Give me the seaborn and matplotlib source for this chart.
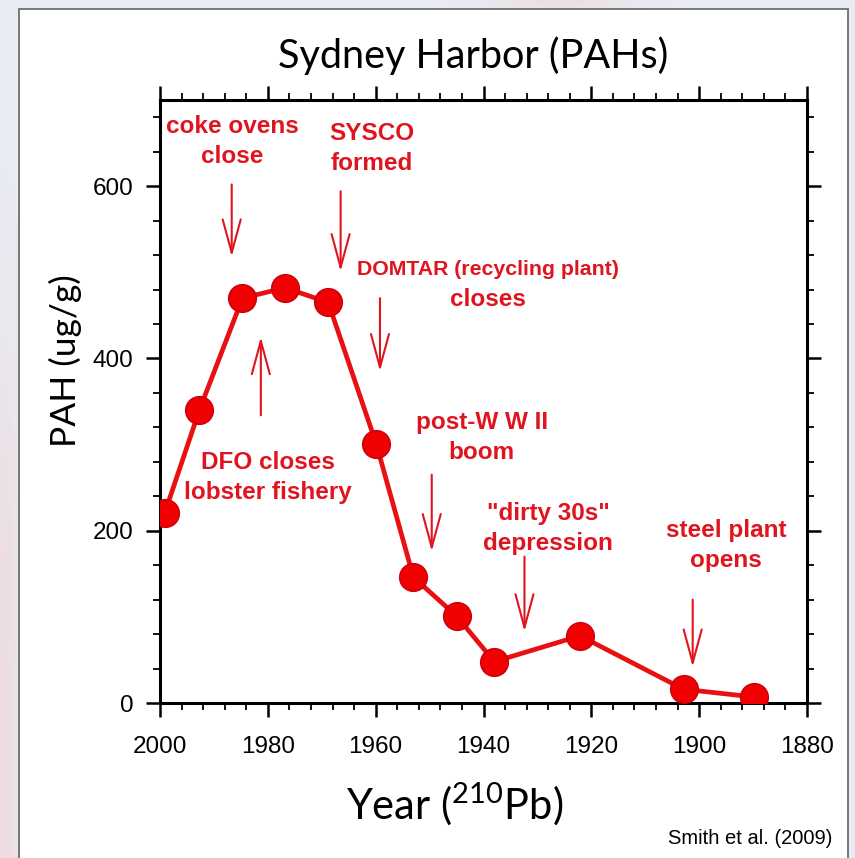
import numpy as np
import matplotlib
matplotlib.use("Agg")
import matplotlib.pyplot as plt
from matplotlib.patches import Rectangle
from matplotlib.ticker import MultipleLocator
import seaborn as sns

# PAH concentrations down the dated sediment core
years = [1999.1, 1992.7, 1984.7, 1976.8, 1968.8, 1959.9, 1953.0, 1945.0, 1938.0, 1922.1, 1902.9, 1889.9]
pah = [221, 340, 470, 482, 465, 301, 146, 101, 48, 78, 16, 7]

# Historical events: two text lines each, with per-line font size
event_top = ["coke ovens", "SYSCO", "DOMTAR (recycling plant)", "DFO closes",
             "post-W W II", "\"dirty 30s\"", "steel plant"]
event_bottom = ["close", "formed", "closes", "lobster fishery", "boom",
                "depression", "opens"]
top_size = [17.5, 17.5, 15.3, 17.5, 17.5, 17.5, 17.5]
label_year = [1986.6, 1960.8, 1939.1, 1979.9, 1940.3, 1928.0, 1895.0]
label_pah = [652, 644, 486, 262, 308, 202, 183]
arrow_year = [1986.7, 1966.5, 1959.2, 1981.3, 1949.6, 1932.4, 1901.2]
arrow_from = [602, 594, 470, 334, 265, 170, 120]
arrow_to = [518, 501, 385, 425, 176, 83, 42]

x_ticks = [2000, 1980, 1960, 1940, 1920, 1900, 1880]
y_ticks = [0, 200, 400, 600]

sns.set_theme(style="ticks")
plt.rcParams["font.family"] = ["Liberation Sans", "DejaVu Sans"]
plt.rcParams["mathtext.fontset"] = "custom"
plt.rcParams["mathtext.rm"] = "Lato"
plt.rcParams["mathtext.default"] = "regular"

RED_TXT = "#e0141e"
RED_LINE = "#e81010"
RED_FILL = "#f00000"
RED_EDGE = "#c8000f"

W, H = 855, 858
fig = plt.figure(figsize=(W / 100, H / 100), dpi=100)

# slide-style backdrop with a white panel
bg = fig.add_axes([0, 0, 1, 1], zorder=-5)
bg.set_xlim(0, W)
bg.set_ylim(H, 0)
bg.axis("off")
yy, xx = np.mgrid[0:H, 0:W]
base = np.array([233, 236, 243]) / 255
tint = np.array([238, 216, 218]) / 255
wgt = 0.85 * np.exp(-(xx / 22.0) ** 2) / (1 + np.exp(-(yy - 420) / 90.0))
wgt += 0.6 * np.exp(-((xx - 560) / 70.0) ** 2) * np.exp(-(yy / 12.0) ** 2)
wgt = np.clip(wgt, 0, 1)[..., None]
img = base * (1 - wgt) + tint * wgt
bg.imshow(img, extent=(0, W, H, 0), aspect="auto", interpolation="bilinear")
bg.add_patch(Rectangle((19, 9), 829, 870, facecolor="white", edgecolor="#6e6e6e", lw=1.3))

ax = fig.add_axes([160 / W, 155 / H, 647 / W, 603 / H])
ax.set_facecolor("white")

sns.lineplot(x=years, y=pah, ax=ax, color=RED_LINE, linewidth=3.4, marker="o",
             markersize=20, markerfacecolor=RED_FILL, markeredgecolor=RED_EDGE,
             markeredgewidth=1.0, zorder=3)

ax.set_xlim(2000, 1880)
ax.set_ylim(0, 700)
ax.set_xticks(x_ticks)
ax.set_yticks(y_ticks)
ax.xaxis.set_minor_locator(MultipleLocator(4))
ax.yaxis.set_minor_locator(MultipleLocator(40))
ax.tick_params(which="both", direction="out", top=True, right=True,
               labeltop=False, labelright=False, color="black")
ax.tick_params(which="major", length=10, width=1.8)
ax.tick_params(which="minor", length=5, width=1.3)
ax.tick_params(axis="x", which="major", pad=14)
ax.tick_params(axis="y", which="major", pad=9)
for sp in ax.spines.values():
    sp.set_linewidth(2.2)
    sp.set_color("black")
ax.set_xticklabels([str(v) for v in x_ticks], fontsize=17.5, color="black")
ax.set_yticklabels([str(v) for v in y_ticks], fontsize=17.5, color="black")

ax.set_xlabel("Year ($^{210}$Pb)", fontfamily="Lato", fontsize=30, color="black")
ax.xaxis.set_label_coords(0.456, -0.128)
ax.set_ylabel("PAH (ug/g)", fontfamily="Lato", fontsize=25.5, color="black")
ax.yaxis.set_label_coords(-0.121, 0.567)
ax.text(0.4845, 1.053, "Sydney Harbor (PAHs)", transform=ax.transAxes, ha="center",
        va="baseline", fontfamily="Lato", fontsize=28.5, color="black")

for top, bot, tsz, lx, ly, axx, a0, a1 in zip(event_top, event_bottom, top_size,
                                              label_year, label_pah,
                                              arrow_year, arrow_from, arrow_to):
    ax.annotate(top, xy=(lx, ly), xytext=(0, 10.8), textcoords="offset points",
                ha="center", va="center", fontsize=tsz, fontweight="bold",
                color=RED_TXT, zorder=4)
    ax.annotate(bot, xy=(lx, ly), xytext=(0, -10.8), textcoords="offset points",
                ha="center", va="center", fontsize=17.5, fontweight="bold",
                color=RED_TXT, zorder=4)
    ax.annotate("", xy=(axx, a1), xytext=(axx, a0),
                arrowprops=dict(arrowstyle="->,head_length=2.4,head_width=0.65",
                                color=RED_TXT, lw=1.5, mutation_scale=10,
                                shrinkA=0, shrinkB=0), zorder=4)

fig.text(750 / W, (H - 838) / H, "Smith et al. (2009)", ha="center", va="center",
         fontsize=14.5, color="black")

fig.savefig("out.png", dpi=100)
